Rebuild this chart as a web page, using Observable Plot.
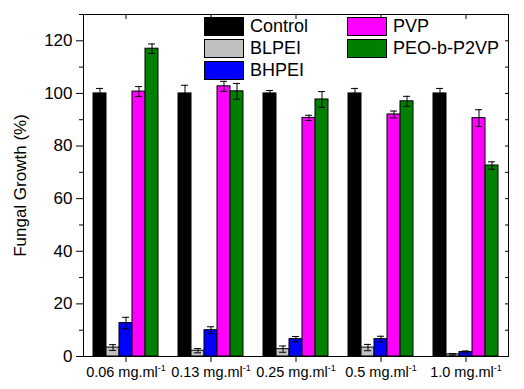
<!DOCTYPE html>
<html><head><meta charset="utf-8">
<script src="https://cdn.jsdelivr.net/npm/d3@7"></script>
<script src="https://cdn.jsdelivr.net/npm/@observablehq/plot@0.6"></script>
<style>
body{margin:0;background:#fff;}
#wrap{position:relative;width:524px;height:389px;font-family:Arial,"Liberation Sans",sans-serif;}
.leg{position:absolute;display:flex;align-items:center;font-size:18px;height:19px;color:#000;white-space:nowrap;}
.sw{width:38px;height:17px;border:1px solid #000;margin-right:6px;flex:none;}
</style></head><body><div id="wrap"></div><script>
const groups = ["0.06 mg.ml\u207B\u00B9","0.13 mg.ml\u207B\u00B9","0.25 mg.ml\u207B\u00B9","0.5 mg.ml\u207B\u00B9","1.0 mg.ml\u207B\u00B9"];
const series = ["Control","BLPEI","BHPEI","PVP","PEO-b-P2VP"];
const colors = ["#000000","#c0c0c0","#0000ff","#ff00ff","#008000"];
const control = [100, 100, 100, 100, 100];
const controlErr = [1.9, 3.1, 1.1, 1.9, 1.9];
const blpei = [3.4, 2.2, 2.8, 3.4, 0.8];
const blpeiErr = [1.1, 0.8, 1.2, 1.2, 0.3];
const bhpei = [12.7, 10.0, 6.6, 6.6, 1.7];
const bhpeiErr = [2.2, 1.3, 1.0, 1.1, 0.4];
const pvp = [100.7, 102.7, 90.7, 92.0, 90.6];
const pvpErr = [1.9, 1.9, 1.0, 1.3, 3.2];
const peo = [117.0, 100.8, 97.7, 97.0, 72.6];
const peoErr = [1.8, 3.0, 3.0, 1.9, 1.4];
const yMajor = [0, 20, 40, 60, 80, 100, 120];
const yMinor = [10, 30, 50, 70, 90, 110, 130];

const values = [control, blpei, bhpei, pvp, peo];
const errs = [controlErr, blpeiErr, bhpeiErr, pvpErr, peoErr];
const rows = [];
groups.forEach((g, i) => series.forEach((s, j) => rows.push({group: g, series: s, value: values[j][i], err: errs[j][i]})));

const chart = Plot.plot({
  width: 524, height: 389,
  marginLeft: 83, marginRight: 16, marginTop: 14, marginBottom: 33,
  style: {fontFamily: "Arial, 'Liberation Sans', sans-serif", background: "#fff", color: "#000"},
  fx: {domain: groups, padding: 0, label: null, axis: null},
  x: {domain: series, paddingInner: 0, paddingOuter: 0.58, axis: null},
  y: {domain: [0, 130], axis: null},
  color: {domain: series, range: colors},
  marks: [
    Plot.barY(rows, {fx: "group", x: "series", y: "value", fill: "series", stroke: "#000", strokeWidth: 1}),
    Plot.ruleX(rows, {fx: "group", x: "series", y1: d => d.value - d.err, y2: d => d.value + d.err, stroke: "#000"}),
    Plot.tickY(rows, {fx: "group", x: "series", y: d => d.value + d.err, insetLeft: 3, insetRight: 3, stroke: "#000"}),
    Plot.tickY(rows, {fx: "group", x: "series", y: d => d.value - d.err, insetLeft: 3, insetRight: 3, stroke: "#000"}),
    Plot.axisY({anchor: "left", ticks: yMajor, tickSize: 7, tickPadding: 4, fontSize: 17, label: "Fungal Growth (%)", labelArrow: "none", labelAnchor: "center", labelOffset: 70}),
    Plot.axisY({anchor: "left", ticks: yMinor, tickSize: 4, text: null, label: null}),
    Plot.axisY({anchor: "right", ticks: yMajor.concat(yMinor), tickSize: -4, text: null, label: null}),
    Plot.axisFx({anchor: "bottom", tickSize: 6, tickPadding: 4, fontSize: 14.5, label: null}),
    Plot.axisFx({anchor: "top", tickSize: -4, text: null, label: null}),
    Plot.frame({facet: "super", stroke: "#000"})
  ]
});
const wrap = document.getElementById("wrap");
wrap.appendChild(chart);

// y label size
d3.select(chart).selectAll("text").each(function () {
  const t = this.textContent;
  if (t.startsWith("Fungal Growth")) {
    d3.select(this).attr("font-size", 17).style("font-size", "17px");
    if (this.children.length === 0) this.textContent = "Fungal Growth (%)";
  }
});
// superscript "-1" in concentration labels
d3.select(chart).selectAll("text").each(function () {
  if (this.querySelector("tspan")) return;
  const t = this.textContent;
  const k = t.indexOf("\u207B\u00B9");
  if (k < 0) return;
  const sel = d3.select(this);
  sel.text(null);
  sel.append("tspan").text(t.slice(0, k));
  sel.append("tspan").attr("font-size", 9).attr("dy", "-0.6em").text("-1");
});

const legPos = [[204, 17], [204, 39], [204, 61], [347, 17], [347, 39]];
series.forEach((s, i) => {
  const d = document.createElement("div");
  d.className = "leg";
  d.style.left = legPos[i][0] + "px";
  d.style.top = legPos[i][1] + "px";
  const sw = document.createElement("div");
  sw.className = "sw";
  sw.style.background = colors[i];
  const t = document.createElement("span");
  t.textContent = s;
  d.appendChild(sw); d.appendChild(t);
  wrap.appendChild(d);
});
</script></body></html>
